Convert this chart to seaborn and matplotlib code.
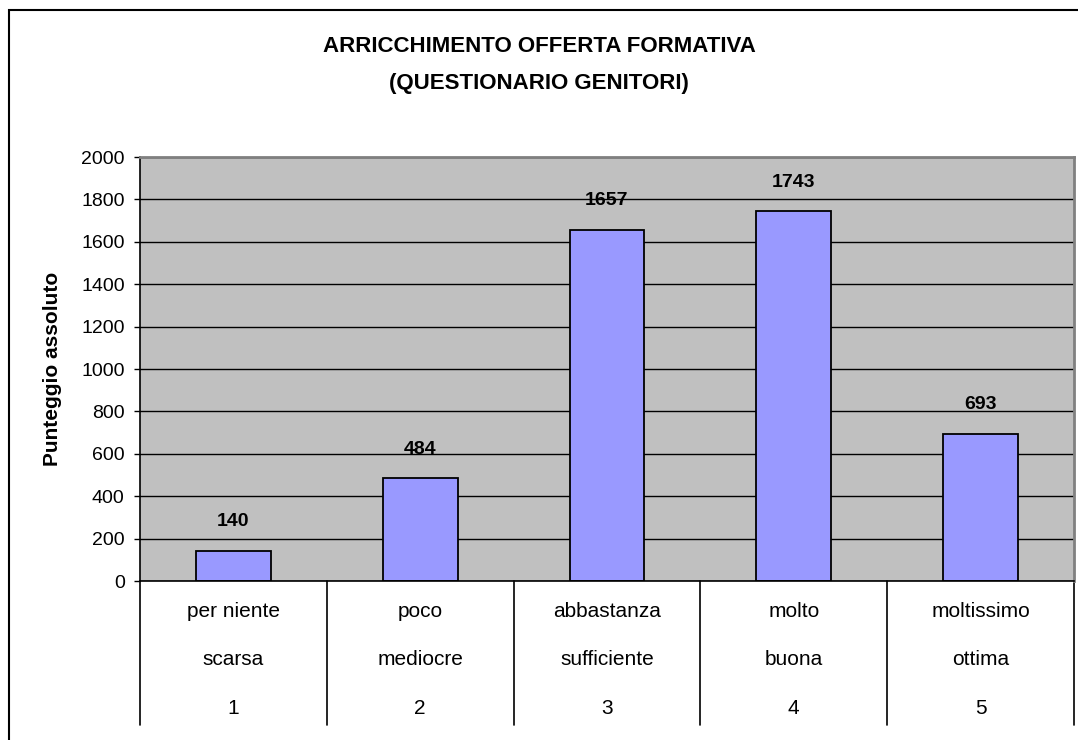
import pandas as pd
import matplotlib.pyplot as plt
import seaborn as sns
from matplotlib.patches import Rectangle

# dati del grafico
livello_1 = ["per niente", "poco", "abbastanza", "molto", "moltissimo"]
livello_2 = ["scarsa", "mediocre", "sufficiente", "buona", "ottima"]
codici = ["1", "2", "3", "4", "5"]
punteggi = [140, 484, 1657, 1743, 693]

sns.set_theme(style="white")
plt.rcParams['font.family'] = ['Liberation Sans', 'DejaVu Sans']
plt.rcParams['text.color'] = 'black'
plt.rcParams['axes.labelcolor'] = 'black'
plt.rcParams['ytick.color'] = 'black'
plt.rcParams['xtick.color'] = 'black'

df = pd.DataFrame({"codice": codici, "punteggio": punteggi})

fig = plt.figure(figsize=(10.78, 7.40), dpi=100)
ax = fig.add_axes([140 / 1078, 1 - 581 / 740, 934 / 1078, 424 / 740])
ax.set_facecolor('#C0C0C0')

sns.barplot(data=df, x="codice", y="punteggio", color='#9999FF', edgecolor='black',
            linewidth=1.3, width=0.4, saturation=1, ax=ax)

ax.set_ylim(0, 2000)
ax.set_xlim(-0.5, 4.5)
ax.set_yticks(range(0, 2001, 200))
ax.yaxis.grid(True, color='black', lw=1)
ax.set_axisbelow(True)
ax.tick_params(axis='y', which='both', left=True, length=4, width=1, color='black',
               labelsize=14, pad=7)
ax.tick_params(axis='x', length=0)
ax.set_xticklabels([])
ax.set_xlabel("")
ax.set_ylabel("Punteggio assoluto", fontsize=15, fontweight='bold', labelpad=14)

for side in ['top', 'right']:
    ax.spines[side].set_color('#808080')
    ax.spines[side].set_linewidth(2)
for side in ['left', 'bottom']:
    ax.spines[side].set_color('black')
    ax.spines[side].set_linewidth(1.2)

# etichette dei valori
for i, v in enumerate(punteggi):
    ax.annotate(str(v), (i, v), xytext=(0, 15), textcoords='offset points',
                ha='center', va='bottom', fontsize=14, fontweight='bold')

# asse categorie a piu' livelli
tr = ax.get_xaxis_transform()
for i in range(len(codici)):
    ax.text(i, -0.073, livello_1[i], transform=tr, ha='center', va='center', fontsize=15)
    ax.text(i, -0.184, livello_2[i], transform=tr, ha='center', va='center', fontsize=15)
    ax.text(i, -0.300, codici[i], transform=tr, ha='center', va='center', fontsize=15)
for k in range(len(codici) + 1):
    ax.plot([k - 0.5, k - 0.5], [0, -0.34], transform=tr, color='black', lw=1.2,
            clip_on=False)

fig.text(0.5, 1 - 47 / 740, "ARRICCHIMENTO OFFERTA FORMATIVA",
         ha='center', va='center', fontsize=16, fontweight='bold')
fig.text(0.5, 1 - 83 / 740, "(QUESTIONARIO GENITORI)",
         ha='center', va='center', fontsize=16, fontweight='bold')

# bordo esterno
fig.patches.append(Rectangle((9 / 1078, -0.1), 1.2, 1 - 10 / 740 + 0.1,
                             transform=fig.transFigure, fill=False,
                             edgecolor='black', lw=1.5))

fig.savefig("out.png", dpi=100)
